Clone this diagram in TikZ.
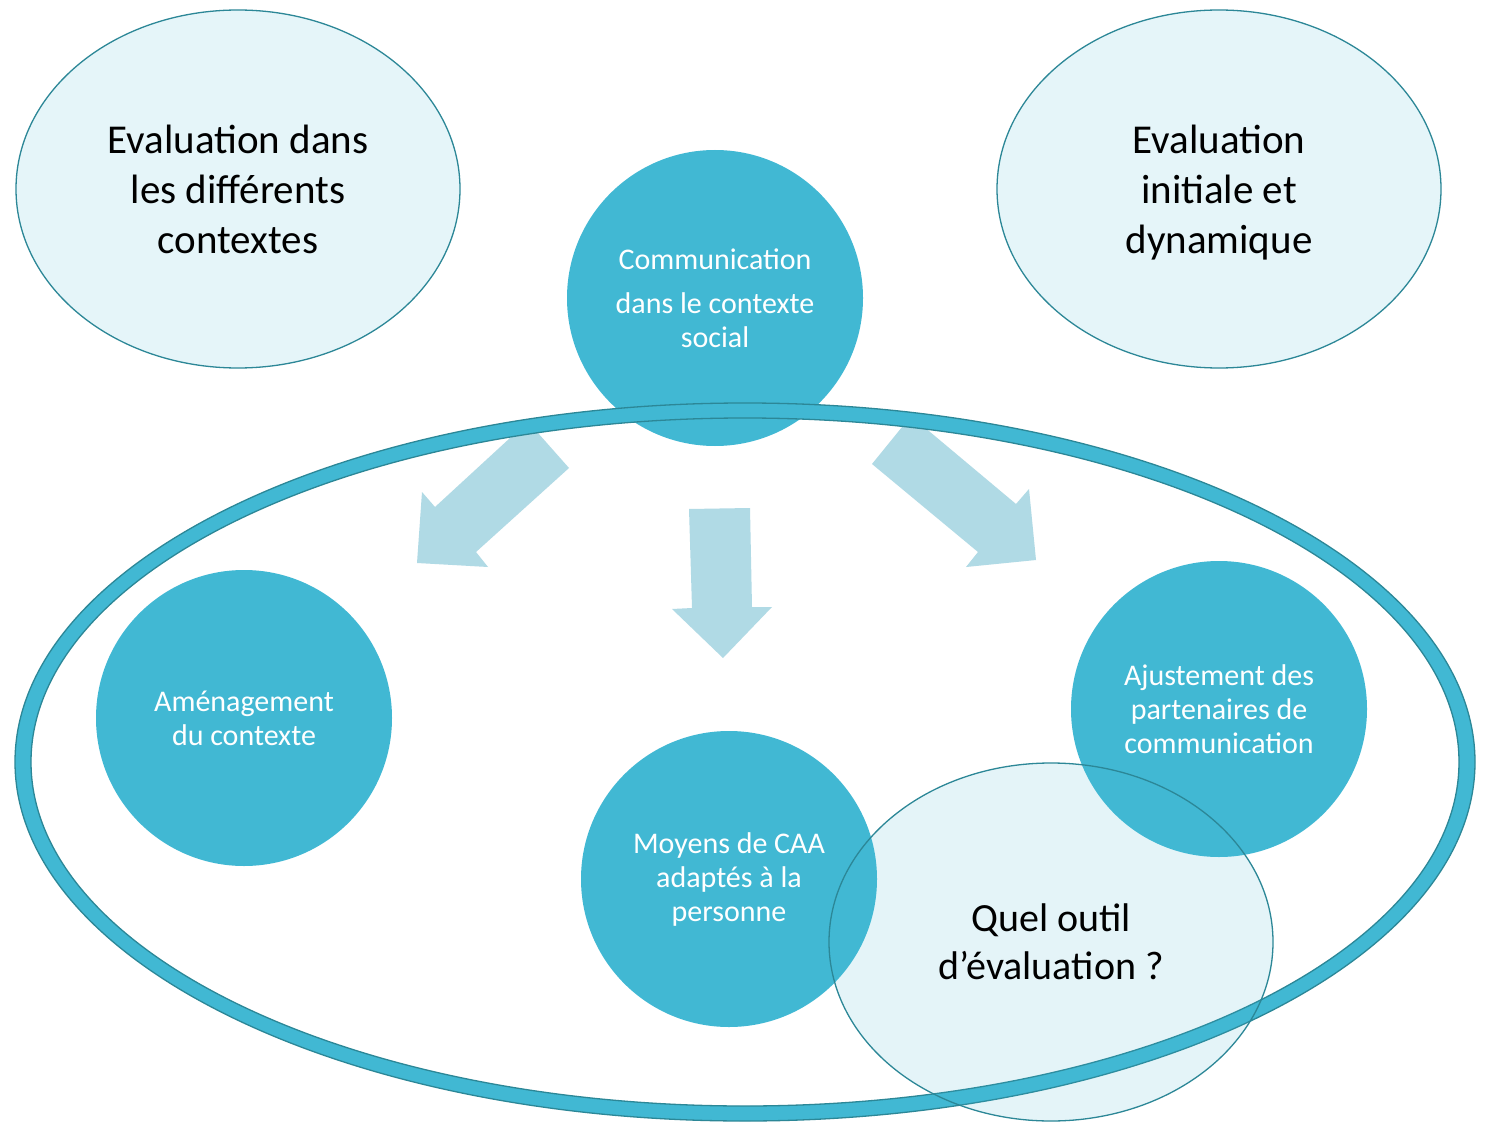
\documentclass[tikz,border=0pt]{standalone}
\usepackage{fontspec}
\setmainfont{Carlito}
\usetikzlibrary{shapes.geometric}
\definecolor{teal1}{HTML}{41B8D3}
\definecolor{tealdark}{HTML}{2C8797}
\definecolor{lightfill}{HTML}{E5F5F9}
\definecolor{arrowblue}{HTML}{B0DAE5}
\tikzset{
  bigcircle/.style={circle, fill=teal1, minimum size=296pt, inner sep=0pt, text=white,
    align=center, font=\fontsize{30}{34}\selectfont},
  topellipse/.style={ellipse, fill=lightfill, draw=tealdark, line width=1.3pt,
    minimum width=444pt, minimum height=358pt, inner sep=0pt, align=center,
    font=\fontsize{41}{50}\selectfont},
  blockarrow/.style={fill=arrowblue, draw=none},
}
\begin{document}
\begin{tikzpicture}[x=1pt,y=-1pt]
\useasboundingbox (0,0) rectangle (1488,1123);
\fill[white] (0,0) rectangle (1488,1123);

% top ellipses
\node[topellipse] (evalctx) at (238,189) {Evaluation dans\\les différents\\contextes};
\node[topellipse] (evalinit) at (1219,189) {Evaluation\\initiale et\\\raisebox{0pt}[\height][0pt]{dynamique}};

% top circle
\node[bigcircle] (comm) at (715,298) {Communication\\[10pt]dans le contexte\\social};

% block arrows
\fill[blockarrow] (528,423) -- (538,433) -- (569,468) -- (476,552) -- (488,567)
   -- (417,563) -- (422,492) -- (435,507) -- (510,438) -- cycle;
\fill[blockarrow] (689,509) -- (750,508) -- (752,607) -- (772,607) -- (723,658)
   -- (672,609) -- (692,608) -- cycle;
\fill[blockarrow] (911,416) -- (1016,504) -- (1029,489) -- (1036,560) -- (966,567)
   -- (978,552) -- (872,464) -- cycle;

% big ring
\path[fill=teal1, even odd rule, draw=tealdark, line width=1.3pt]
  (745,762) ellipse [x radius=730pt, y radius=359pt]
  (745,762) ellipse [x radius=714pt, y radius=344pt];

% inner circles
\node[bigcircle] (amen) at (244,718) {Aménagement\\du contexte};
\node[bigcircle] (moyens) at (729,879) {Moyens de CAA\\adaptés à la\\personne};
\node[bigcircle] (ajust) at (1219,709) {Ajustement des\\partenaires de\\communication};

% question ellipse
\node[ellipse, fill=teal1, fill opacity=0.14, text opacity=1, draw=tealdark, line width=1.3pt,
  minimum width=444pt, minimum height=358pt, inner sep=0pt, align=center,
  font=\fontsize{40}{48}\selectfont] (quel) at (1051,942) {Quel outil\\d’évaluation ?};
\end{tikzpicture}
\end{document}
